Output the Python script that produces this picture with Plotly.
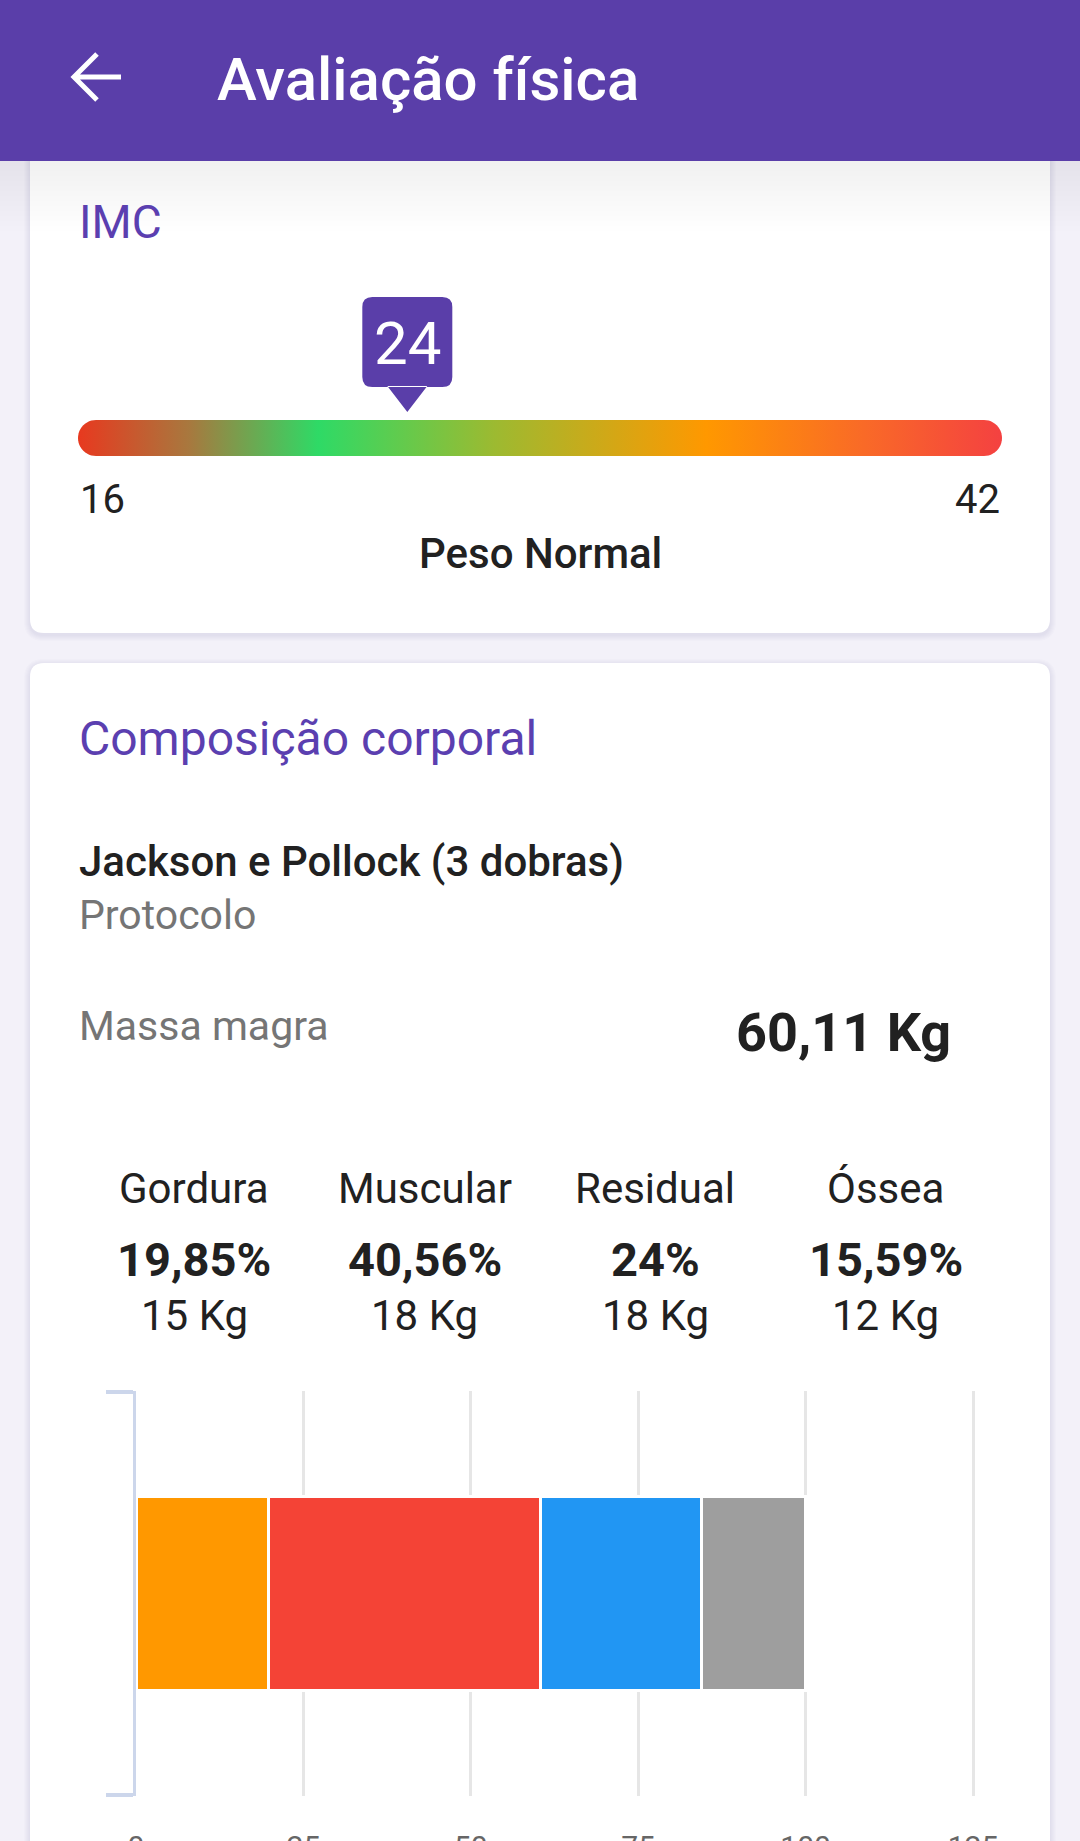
import numpy as np
import plotly.graph_objects as go

W, H = 1080, 1841

# dados da tela
titulo = "Avaliação física"
imc_valor = 24
imc_min, imc_max = 16, 42
imc_faixa = "Peso Normal"
protocolo = "Jackson e Pollock (3 dobras)"
massa_magra = "60,11 Kg"
componentes = ["Gordura", "Muscular", "Residual", "Óssea"]
percentuais = [19.85, 40.56, 24, 15.59]
pesos_kg = [15, 18, 18, 12]
eixo_ticks = [0, 25, 50, 75, 100, 125]

cores = ["#FF9800", "#F44336", "#2196F3", "#9E9E9E"]
roxo = "#5A3EA9"
gradiente = [[0, "#E8391F"], [0.12, "#A8783E"], [0.26, "#2EDA66"], [0.45, "#9CBA31"],
             [0.68, "#FF9800"], [0.85, "#F96A27"], [1, "#F44141"]]


def px(x):
    return x / W


def py(y):
    return 1 - y / H


def rrect(x0, y0, x1, y1, r):
    rx, ry = r / W, r / H
    X0, X1, Y0, Y1 = px(x0), px(x1), py(y0), py(y1)
    return (f"M{X0+rx},{Y0} L{X1-rx},{Y0} Q{X1},{Y0} {X1},{Y0-ry} L{X1},{Y1+ry} "
            f"Q{X1},{Y1} {X1-rx},{Y1} L{X0+rx},{Y1} Q{X0},{Y1} {X0},{Y1+ry} "
            f"L{X0},{Y0-ry} Q{X0},{Y0} {X0+rx},{Y0} Z")


shapes = []
anots = []


def texto(t, x, y, size, color="#212121", weight=400, xanchor="left"):
    anots.append(dict(text=t, x=px(x), y=py(y), xref="paper", yref="paper",
                      xanchor=xanchor, yanchor="middle", showarrow=False,
                      font=dict(family="Roboto", size=size, color=color, weight=weight)))


# cards com sombra
for (x0, y0, x1, y1) in [(30, 120, 1050, 633), (30, 663, 1050, 1950)]:
    for k in range(6, 0, -1):
        shapes.append(dict(type="path", path=rrect(x0 - k, y0 - k + 2, x1 + k, y1 + k + 2, 14 + k),
                           xref="paper", yref="paper", fillcolor="rgba(70,50,140,0.016)",
                           line=dict(width=0), layer="below"))
    shapes.append(dict(type="path", path=rrect(x0, y0, x1, y1, 14), xref="paper", yref="paper",
                       fillcolor="white", line=dict(width=0), layer="below"))

# sombra do cabecalho
for k in range(14):
    shapes.append(dict(type="rect", xref="paper", yref="paper", x0=0, x1=1,
                       y0=py(161 + (k + 1) * 5), y1=py(161), fillcolor="rgba(0,0,0,0.005)",
                       line=dict(width=0), layer="below"))
shapes.append(dict(type="rect", xref="paper", yref="paper", x0=0, x1=1, y0=py(161), y1=1,
                   fillcolor=roxo, line=dict(width=0), layer="below"))
# seta voltar
shapes.append(dict(type="path", xref="paper", yref="paper", layer="above",
                   path=(f"M{px(121)},{py(77)} L{px(75)},{py(77)} M{px(97)},{py(54)} "
                         f"L{px(74)},{py(77)} L{px(97)},{py(100)}"),
                   line=dict(color="white", width=5)))
texto(titulo, 215, 79, 60, "white", 500)

# IMC
texto("IMC", 77, 222, 46, "#5B3FB0")
ppu = (1002 - 78) / (imc_max - imc_min)
r_px = 18
rx = r_px / ppu
cy = 438
a = np.linspace(-np.pi / 2, np.pi / 2, 25)
bx = np.concatenate([imc_min + rx - rx * np.cos(a), imc_max - rx + rx * np.cos(a[::-1])])
by = np.concatenate([cy - r_px * np.sin(a), cy - r_px * np.sin(a[::-1])])

fig = go.Figure()
fig.add_trace(go.Scatter(x=bx, y=by, xaxis="x2", yaxis="y2", mode="none", fill="toself",
                         fillgradient=dict(type="horizontal", colorscale=gradiente,
                                           start=imc_min, stop=imc_max),
                         hoverinfo="skip", showlegend=False))

# marcador do valor
mw, rr = 90, 10
marc = (f"M{rr},387 L{mw-rr},387 Q{mw},387 {mw},377 L{mw},307 Q{mw},297 {mw-rr},297 "
        f"L{rr},297 Q0,297 0,307 L0,377 Q0,387 {rr},387 Z "
        f"M25,386 L65,386 L45,412 Z")
shapes.append(dict(type="path", xref="x2", yref="y2", xsizemode="pixel", xanchor=imc_valor,
                   path=marc, fillcolor=roxo, line=dict(width=0), layer="above"))
anots.append(dict(text=str(imc_valor), x=imc_valor, xshift=45, y=344, xref="x2", yref="y2",
                  xanchor="center", yanchor="middle", showarrow=False,
                  font=dict(family="Roboto", size=60, color="white")))
anots.append(dict(text=str(imc_min), x=imc_min, y=500, xref="x2", yref="y2", xanchor="left",
                  yanchor="middle", showarrow=False, font=dict(family="Roboto", size=40, color="#212121")))
anots.append(dict(text=str(imc_max), x=imc_max, y=500, xref="x2", yref="y2", xanchor="right",
                  yanchor="middle", showarrow=False, font=dict(family="Roboto", size=40, color="#212121")))
texto(imc_faixa, 540, 553, 42, "#212121", 500, "center")

# composicao corporal
texto("Composição corporal", 77, 739, 48, "#5B3FB0")
texto(protocolo, 77, 861, 42, "#212121", 500)
texto("Protocolo", 77, 915, 41, "#757575")
texto("Massa magra", 77, 1026, 41, "#757575")
texto(massa_magra, 953, 1032, 54, "#212121", 700, "right")
for i, (nome, pct, kg) in enumerate(zip(componentes, percentuais, pesos_kg)):
    cx = 194 + i * 230.5
    texto(nome, cx, 1188, 42, "#212121", 400, "center")
    texto(f"{pct:g}".replace(".", ",") + "%", cx, 1259, 47, "#212121", 700, "center")
    texto(f"{kg} Kg", cx, 1315, 42, "#212121", 400, "center")

for nome, pct, cor in zip(componentes, percentuais, cores):
    fig.add_trace(go.Bar(x=[pct], y=["corpo"], orientation="h", name=nome,
                         marker=dict(color=cor, line=dict(color="white", width=3)),
                         hoverinfo="skip"))

x_max = 126
x_ppu = (973 - 136) / 125

fig.update_layout(
    width=W, height=H, margin=dict(l=0, r=0, t=0, b=0),
    paper_bgcolor="#F3F1F9", plot_bgcolor="rgba(0,0,0,0)",
    showlegend=False, barmode="stack", bargap=0.52,
    shapes=shapes, annotations=anots,
    xaxis=dict(domain=[px(136), px(136 + x_max * x_ppu)], range=[0, x_max], tickvals=eixo_ticks,
               showgrid=True, gridcolor="#E6E6E6", gridwidth=3, zeroline=False,
               showline=False, ticks="", ticklabelstandoff=30, automargin=False,
               tickfont=dict(family="Roboto", size=30, color="#666666")),
    yaxis=dict(domain=[py(1796), py(1391)], type="category", tickson="boundaries",
               range=[-0.502, 0.502],
               ticks="outside", ticklen=27, tickwidth=4, tickcolor="#CCD6EB",
               showline=True, linecolor="#CCD6EB", linewidth=3, automargin=False,
               showticklabels=False, showgrid=False, zeroline=False),
    xaxis2=dict(domain=[px(78), px(1002)], range=[imc_min, imc_max], visible=False,
                anchor="y2", automargin=False),
    yaxis2=dict(domain=[py(520), py(280)], range=[520, 280], visible=False, anchor="x2",
                automargin=False),
)

fig.write_html("out.html", config={"displayModeBar": False},
               post_script="document.body.style.margin='0';document.body.style.overflow='hidden';")
